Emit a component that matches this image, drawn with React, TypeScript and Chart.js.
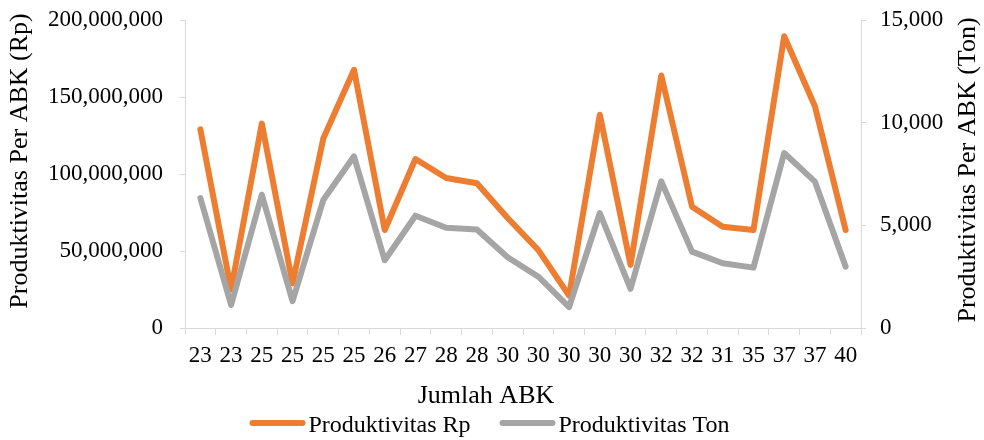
import React, { useEffect, useRef } from 'react';
import { Chart, registerables } from 'chart.js';

Chart.register(...registerables);

// ---- Data ----
const categories = ['23', '23', '25', '25', '25', '25', '26', '27', '28', '28', '30', '30', '30', '30', '30', '32', '32', '31', '35', '37', '37', '40'];
const productivityRp = [129000000, 25000000, 132700000, 29000000, 123000000, 167700000, 63600000, 109700000, 97400000, 94000000, 71400000, 50600000, 21000000, 138500000, 41000000, 164000000, 78800000, 65800000, 63600000, 189400000, 144000000, 63600000];
const productivityTon = [6330, 1120, 6490, 1310, 6230, 8360, 3300, 5470, 4880, 4800, 3450, 2500, 1020, 5600, 1910, 7140, 3720, 3150, 2940, 8520, 7130, 2990];
const rpTickValues = [0, 50000000, 100000000, 150000000, 200000000];
const tonTickValues = [0, 5000, 10000, 15000];
const seriesNames = ['Produktivitas Rp', 'Produktivitas Ton'];
const xTitle = 'Jumlah ABK';
const leftTitle = 'Produktivitas Per ABK (Rp)';
const rightTitle = 'Produktivitas Per ABK (Ton)';

const ORANGE = '#ED7D31';
const GRAY = '#A5A5A5';
const AXIS = '#D9D9D9';
const FONT = '"Liberation Serif", "Times New Roman", serif';

const textPlugin = {
  id: 'customText',
  afterDraw(chart: any) {
    const ctx = chart.ctx as CanvasRenderingContext2D;
    ctx.save();
    ctx.fillStyle = '#000000';
    ctx.textBaseline = 'alphabetic';
    ctx.font = `26px ${FONT}`;
    ctx.textAlign = 'center';
    ctx.fillText(xTitle, 486, 403);

    ctx.save();
    ctx.translate(27, 161);
    ctx.rotate(-Math.PI / 2);
    ctx.fillText(leftTitle, 0, 0);
    ctx.restore();

    ctx.save();
    ctx.translate(975, 170);
    ctx.rotate(-Math.PI / 2);
    ctx.fillText(rightTitle, 0, 0);
    ctx.restore();

    // legend
    ctx.font = `24px ${FONT}`;
    ctx.textAlign = 'left';
    const colors = [ORANGE, GRAY];
    const lineLen = 56;
    const gapText = 3;
    const gapItem = 29;
    const widths = seriesNames.map((n) => ctx.measureText(n).width);
    const total = widths.reduce((a, w) => a + lineLen + gapText + w, 0) + gapItem * (seriesNames.length - 1);
    let x = 489.5 - total / 2;
    const yLine = 423;
    seriesNames.forEach((name, i) => {
      ctx.beginPath();
      ctx.strokeStyle = colors[i];
      ctx.lineWidth = 6;
      ctx.lineCap = 'round';
      ctx.moveTo(x + 3, yLine);
      ctx.lineTo(x + lineLen - 3, yLine);
      ctx.stroke();
      ctx.fillText(name, x + lineLen + gapText, 431.5);
      x += lineLen + gapText + widths[i] + gapItem;
    });
    ctx.restore();
  },
};

export default function App() {
  const canvasRef = useRef<HTMLCanvasElement | null>(null);

  useEffect(() => {
    if (!canvasRef.current) return;
    const tickFont = { family: FONT, size: 23 };
    const chart = new Chart(canvasRef.current, {
      type: 'line',
      data: {
        labels: categories,
        datasets: [
          {
            label: seriesNames[0],
            data: productivityRp,
            yAxisID: 'y',
            borderColor: ORANGE,
            backgroundColor: ORANGE,
            borderWidth: 6,
            pointRadius: 0,
            pointHoverRadius: 0,
            borderJoinStyle: 'round',
            borderCapStyle: 'round',
            tension: 0,
            order: 1,
          },
          {
            label: seriesNames[1],
            data: productivityTon,
            yAxisID: 'y1',
            borderColor: GRAY,
            backgroundColor: GRAY,
            borderWidth: 6,
            pointRadius: 0,
            pointHoverRadius: 0,
            borderJoinStyle: 'round',
            borderCapStyle: 'round',
            tension: 0,
            order: 0,
          },
        ],
      },
      options: {
        animation: false,
        responsive: true,
        maintainAspectRatio: false,
        layout: { padding: { top: 20, left: 0, right: 0, bottom: 0 } },
        plugins: {
          legend: { display: false },
          tooltip: { enabled: false },
          title: { display: false },
        },
        scales: {
          x: {
            type: 'category',
            offset: true,
            grid: {
              display: true,
              offset: true,
              drawOnChartArea: false,
              drawTicks: true,
              tickLength: 7,
              color: AXIS,
              lineWidth: 1,
            },
            border: { display: true, color: AXIS, width: 1 },
            ticks: { font: tickFont, color: '#000000', padding: 7, maxRotation: 0, minRotation: 0, autoSkip: false },
            afterFit: (s: any) => {
              s.height = 112;
              s.paddingLeft = 0;
              s.paddingRight = 0;
            },
          },
          y: {
            position: 'left',
            min: 0,
            max: 200000000,
            afterBuildTicks: (axis: any) => {
              axis.ticks = rpTickValues.map((v) => ({ value: v }));
            },
            grid: { display: true, drawOnChartArea: false, drawTicks: true, tickLength: 5, color: AXIS, lineWidth: 1 },
            border: { display: true, color: AXIS, width: 1 },
            ticks: {
              font: tickFont,
              color: '#000000',
              padding: 17,
              callback: (v: any) => Number(v).toLocaleString('en-US'),
            },
            afterFit: (s: any) => {
              s.width = 185;
              s.paddingTop = 0;
              s.paddingBottom = 0;
            },
          },
          y1: {
            position: 'right',
            min: 0,
            max: 15000,
            afterBuildTicks: (axis: any) => {
              axis.ticks = tonTickValues.map((v) => ({ value: v }));
            },
            grid: { display: true, drawOnChartArea: false, drawTicks: true, tickLength: 5, color: AXIS, lineWidth: 1 },
            border: { display: true, color: AXIS, width: 1 },
            ticks: {
              font: tickFont,
              color: '#000000',
              padding: 14,
              callback: (v: any) => Number(v).toLocaleString('en-US'),
            },
            afterFit: (s: any) => {
              s.width = 123;
              s.paddingTop = 0;
              s.paddingBottom = 0;
            },
          },
        },
      },
      plugins: [textPlugin],
    } as any);
    return () => {
      chart.destroy();
    };
  }, []);

  return (
    <div style={{ position: 'absolute', left: 0, top: 0, width: 984, height: 440, background: '#ffffff' }}>
      <canvas ref={canvasRef} />
    </div>
  );
}
